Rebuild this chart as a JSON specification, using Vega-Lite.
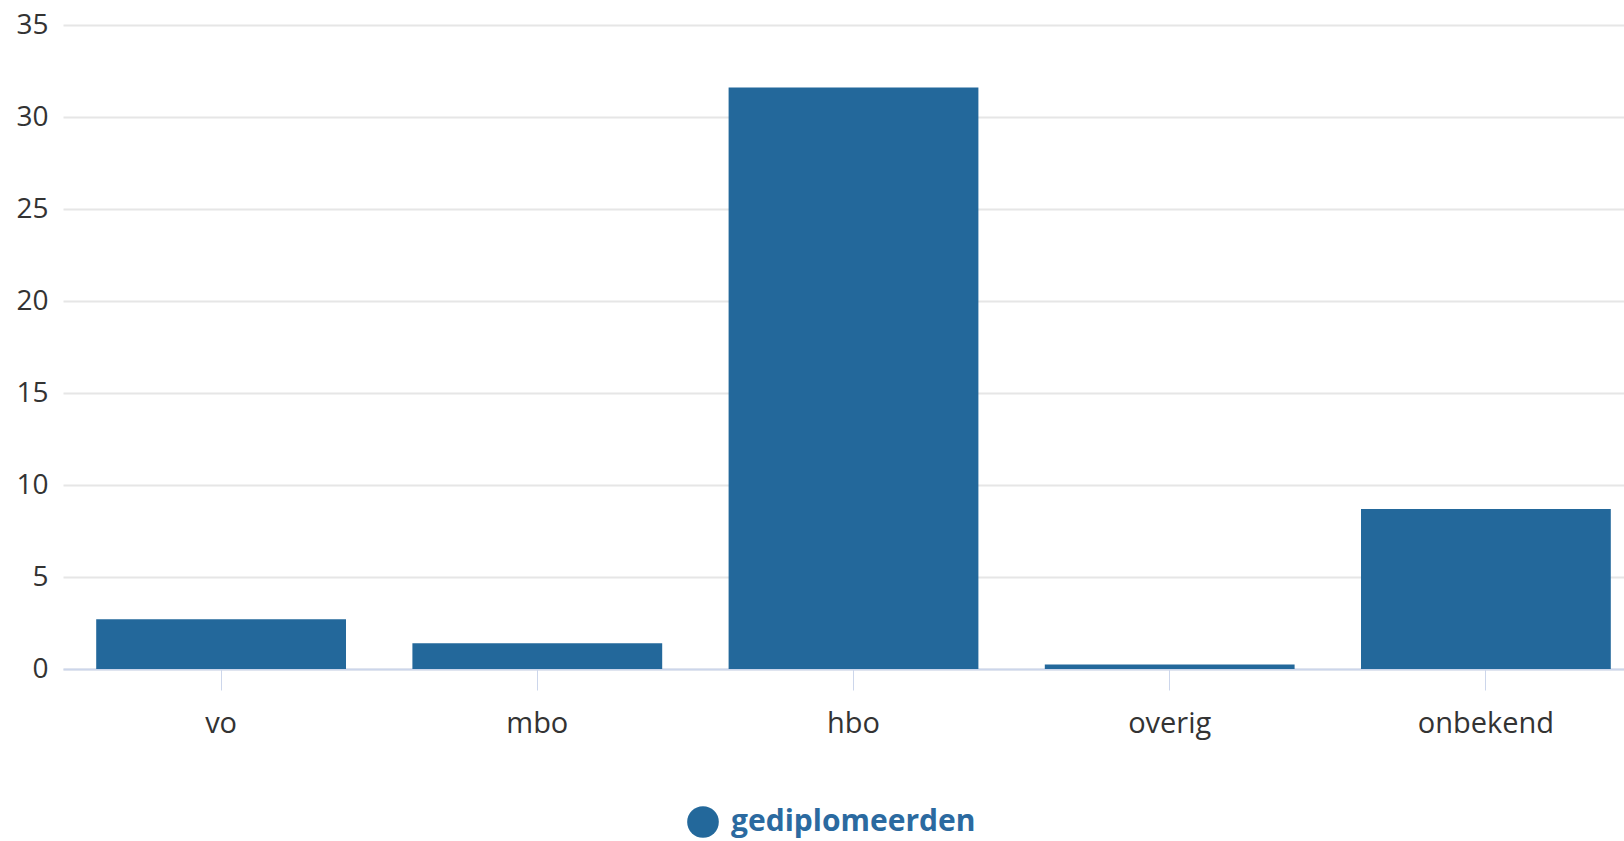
{
  "$schema": "https://vega.github.io/schema/vega-lite/v6.json",
  "autosize": "none",
  "width": 1581,
  "height": 644,
  "padding": {"left": 63, "top": 25, "right": 0, "bottom": 172},
  "background": "white",
  "data": {
    "values": [
      {"opleiding": "vo", "waarde": 2.7, "reeks": "gediplomeerden"},
      {"opleiding": "mbo", "waarde": 1.4, "reeks": "gediplomeerden"},
      {"opleiding": "hbo", "waarde": 31.6, "reeks": "gediplomeerden"},
      {"opleiding": "overig", "waarde": 0.25, "reeks": "gediplomeerden"},
      {"opleiding": "onbekend", "waarde": 8.7, "reeks": "gediplomeerden"}
    ]
  },
  "mark": {"type": "bar", "color": "#23689b"},
  "encoding": {
    "x": {
      "field": "opleiding",
      "type": "nominal",
      "sort": null,
      "scale": {"paddingInner": 0.21, "paddingOuter": 0.105},
      "axis": {
        "title": null,
        "labelAngle": 0,
        "labelFont": "Open Sans",
        "labelFontSize": 29,
        "labelColor": "#333333",
        "labelPadding": 19,
        "tickSize": 21,
        "tickColor": "#ccd6eb",
        "domainColor": "#ccd6eb",
        "domainWidth": 2,
        "grid": false
      }
    },
    "y": {
      "field": "waarde",
      "type": "quantitative",
      "scale": {"domain": [0, 35], "nice": false},
      "axis": {
        "title": null,
        "values": [0, 5, 10, 15, 20, 25, 30, 35],
        "labelFont": "Open Sans",
        "labelFontSize": 28,
        "labelColor": "#333333",
        "labelPadding": 15,
        "ticks": false,
        "domain": false,
        "gridColor": "#e6e6e6",
        "gridWidth": 2
      }
    },
    "color": {
      "field": "reeks",
      "type": "nominal",
      "scale": {"range": ["#23689b"]},
      "legend": {
        "title": null,
        "orient": "none",
        "legendX": 624,
        "legendY": 781,
        "direction": "horizontal",
        "symbolType": "circle",
        "symbolSize": 1000,
        "symbolStrokeWidth": 0,
        "labelFont": "Open Sans",
        "labelFontSize": 30,
        "labelFontWeight": "bold",
        "labelColor": "#2b6aa0",
        "labelOffset": 12,
        "labelLimit": 500
      }
    }
  },
  "config": {"view": {"stroke": null}}
}
